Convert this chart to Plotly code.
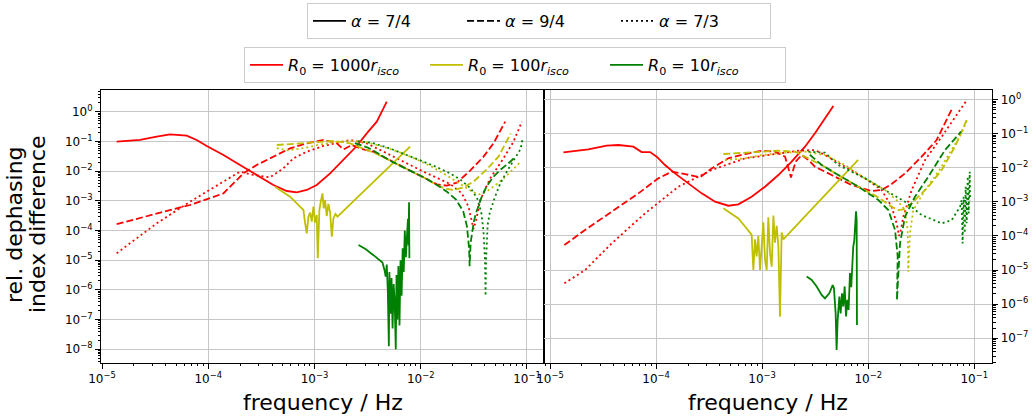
import plotly.graph_objects as go

# ---------------- data (log10 frequency / Hz, log10 rel. dephasing index difference) -------------
# LEFT PANEL
L_red_solid_f = [-4.862, -4.642, -4.485, -4.360, -4.203, -4.109, -4.014, -3.857, -3.701, -3.544, -3.387,
                 -3.261, -3.167, -3.073, -2.979, -2.853, -2.728, -2.602, -2.508, -2.414, -2.351, -2.320]
L_red_solid_v = [-1.004, -0.947, -0.834, -0.756, -0.801, -0.947, -1.149, -1.453, -1.790, -2.127, -2.464,
                 -2.667, -2.712, -2.633, -2.464, -2.071, -1.622, -1.150, -0.723, -0.329, 0.120, 0.345]

L_red_dash_f = [-4.862, -4.485, -4.171, -3.857, -3.763, -3.669, -3.544, -3.387, -3.230, -3.073, -2.916,
                -2.790, -2.728, -2.649, -2.539, -2.445, -2.288, -2.131, -1.974, -1.849, -1.755, -1.660,
                -1.535, -1.409, -1.315, -1.205]
L_red_dash_v = [-3.780, -3.443, -3.139, -2.746, -2.409, -2.071, -1.790, -1.509, -1.230, -1.060, -0.947,
                -1.060, -1.264, -1.116, -1.264, -1.341, -1.644, -1.925, -2.206, -2.442, -2.487, -2.386,
                -1.981, -1.509, -1.060, -0.329]

L_red_dot_f = [-4.862, -4.485, -4.171, -3.857, -3.701, -3.575, -3.418, -3.293, -3.198, -3.073, -2.916,
               -2.665, -2.508, -2.288, -1.974, -1.723, -1.613, -1.551, -1.519, -1.503, -1.478, -1.440,
               -1.346, -1.221, -1.127, -1.048]
L_red_dot_v = [-4.768, -3.757, -3.026, -2.352, -2.015, -2.127, -2.206, -1.903, -1.566, -1.341, -1.149,
               -0.947, -1.060, -1.453, -2.015, -2.431, -2.746, -3.195, -3.701, -3.950, -3.644, -2.970,
               -2.240, -1.565, -1.003, -0.329]

L_yel_solid_f = [-3.371, -3.230, -3.136, -3.104, -3.089, -3.073, -3.057, -3.041, -3.026, -3.010, -2.994,
                 -2.979, -2.969, -2.954, -2.941, -2.925, -2.913, -2.900, -2.885, -2.869, -2.853, -2.837,
                 -2.822, -2.803, -2.784, -2.100]
L_yel_solid_v = [-2.521, -2.858, -3.195, -3.307, -3.735, -4.094, -3.532, -3.397, -3.701, -3.195, -3.735,
                 -3.476, -4.937, -3.307, -3.026, -2.746, -3.251, -2.970, -3.510, -3.105, -3.397, -4.207,
                 -3.589, -3.442, -3.532, -1.172]

L_yel_dash_f = [-3.355, -3.167, -2.979, -2.822, -2.665, -2.539, -2.414, -2.288, -2.131, -1.974, -1.849,
                -1.770, -1.692, -1.598, -1.503, -1.378, -1.268, -1.152]
L_yel_dash_v = [-1.116, -1.060, -1.004, -0.981, -1.060, -1.228, -1.420, -1.644, -1.925, -2.206, -2.465,
                -2.589, -2.634, -2.543, -2.352, -1.936, -1.509, -0.723]

L_yel_dot_f = [-3.355, -3.25, -3.10, -2.95, -2.80, -2.65, -2.50, -2.35, -2.20, -2.05, -1.90, -1.75,
               -1.62, -1.52, -1.45, -1.38, -1.30, -1.20, -1.06]
L_yel_dot_v = [-1.22, -1.30, -1.22, -1.10, -1.02, -0.98, -1.03, -1.18, -1.36, -1.58, -1.84, -2.15,
               -2.45, -2.68, -2.78, -2.68, -2.48, -2.18, -1.68]

L_grn_solid_f = [-2.586, -2.52, -2.445, -2.40, -2.36, -2.34, -2.33, -2.32, -2.31, -2.30, -2.295, -2.285,
                 -2.275, -2.265, -2.255, -2.245, -2.235, -2.228, -2.22, -2.21, -2.20, -2.19, -2.18,
                 -2.17, -2.16, -2.15, -2.14, -2.13, -2.12, -2.115, -2.11, -2.107]
L_grn_solid_v = [-4.49, -4.62, -4.83, -4.95, -5.08, -5.35, -5.55, -5.15, -6.0, -7.9, -5.4, -6.8,
                 -5.6, -7.3, -5.8, -6.4, -8.0, -5.5, -7.0, -5.2, -7.2, -5.0, -6.2,
                 -4.6, -5.4, -4.0, -4.9, -4.2, -3.6, -4.5, -3.05, -4.93]

L_grn_dash_f = [-2.62, -2.50, -2.40, -2.29, -2.13, -1.97, -1.85, -1.75, -1.67, -1.60, -1.565, -1.545,
                -1.54, -1.53, -1.50, -1.48, -1.43, -1.38, -1.32, -1.25, -1.18, -1.11]
L_grn_dash_v = [-1.05, -1.20, -1.40, -1.64, -1.93, -2.21, -2.46, -2.70, -2.95, -3.35, -3.86, -4.6,
                -5.2, -4.4, -3.70, -3.41, -2.90, -2.51, -2.20, -1.95, -1.75, -1.52]

L_grn_dot_f = [-2.59, -2.45, -2.30, -2.15, -2.00, -1.85, -1.72, -1.62, -1.53, -1.47, -1.43, -1.41,
               -1.395, -1.39, -1.385, -1.37, -1.35, -1.30, -1.25, -1.18, -1.12, -1.06, -1.04]
L_grn_dot_v = [-0.99, -1.05, -1.22, -1.42, -1.64, -1.86, -2.08, -2.30, -2.58, -2.90, -3.40, -4.0,
               -5.0, -6.2, -5.0, -3.80, -3.40, -2.85, -2.40, -1.95, -1.62, -1.25, -0.88]

# RIGHT PANEL
R_red_solid_f = [-4.874, -4.639, -4.466, -4.356, -4.214, -4.136, -4.057, -3.994, -3.916, -3.822, -3.696,
                 -3.570, -3.444, -3.319, -3.224, -3.099, -2.973, -2.847, -2.722, -2.596, -2.502, -2.407,
                 -2.329]
R_red_solid_v = [-1.549, -1.461, -1.354, -1.334, -1.383, -1.540, -1.540, -1.676, -1.921, -2.165, -2.458,
                 -2.752, -2.996, -3.114, -3.075, -2.849, -2.556, -2.214, -1.823, -1.383, -0.992, -0.552,
                 -0.191]

R_red_dash_f = [-4.865, -4.670, -4.419, -4.167, -3.979, -3.853, -3.727, -3.586, -3.476, -3.319, -3.162,
                -3.004, -2.879, -2.784, -2.728, -2.684, -2.627, -2.564, -2.502, -2.344, -2.156, -1.967,
                -1.873, -1.779, -1.653, -1.496, -1.355, -1.213]
R_red_dash_v = [-4.267, -3.827, -3.289, -2.752, -2.312, -2.116, -2.185, -2.283, -2.019, -1.725, -1.598,
                -1.501, -1.530, -1.676, -2.283, -1.823, -1.628, -1.774, -1.970, -2.214, -2.507, -2.683,
                -2.654, -2.478, -2.165, -1.676, -1.188, -0.288]

R_red_dot_f = [-4.865, -4.670, -4.419, -4.104, -3.790, -3.476, -3.162, -2.847, -2.659, -2.502, -2.407,
               -2.219, -2.030, -1.873, -1.779, -1.732, -1.710, -1.690, -1.669, -1.590, -1.464, -1.307,
               -1.182, -1.081]
R_red_dot_v = [-5.39, -5.00, -4.218, -3.338, -2.556, -2.067, -1.725, -1.579, -1.501, -1.481, -1.628,
               -1.970, -2.312, -2.654, -3.143, -3.632, -4.00, -3.80, -3.436, -2.654, -1.774, -1.090,
               -0.503, -0.064]

R_yel_solid_f = [-3.366, -3.224, -3.146, -3.099, -3.083, -3.067, -3.052, -3.036, -3.020, -3.004, -2.989,
                 -2.973, -2.957, -2.942, -2.926, -2.910, -2.894, -2.879, -2.863, -2.847, -2.832, -2.816,
                 -2.800, -2.095]
R_yel_solid_v = [-3.19, -3.485, -3.78, -3.97, -5.0, -4.1, -4.6, -4.0, -5.0, -4.1, -3.6,
                 -4.7, -5.0, -3.45, -4.5, -4.9, -3.4, -4.2, -3.7, -4.3, -6.37, -3.9,
                 -4.1, -1.77]

R_yel_dash_f = [-3.366, -3.162, -3.004, -2.847, -2.690, -2.564, -2.439, -2.282, -2.093, -1.904, -1.779,
                -1.716, -1.653, -1.559, -1.433, -1.307, -1.182, -1.072]
R_yel_dash_v = [-1.598, -1.559, -1.510, -1.501, -1.530, -1.725, -1.921, -2.214, -2.556, -2.869, -3.143,
                -3.241, -3.211, -2.947, -2.556, -2.067, -1.383, -0.601]

R_yel_dot_f = [-3.350, -3.162, -3.004, -2.784, -2.596, -2.407, -2.219, -2.030, -1.842, -1.716, -1.653,
               -1.628, -1.622, -1.606, -1.575, -1.464, -1.339, -1.213, -1.119, -1.062]
R_yel_dot_v = [-1.774, -1.725, -1.628, -1.559, -1.530, -1.628, -1.921, -2.312, -2.654, -2.996, -3.241,
               -3.827, -5.05, -3.925, -3.241, -2.654, -2.116, -1.481, -0.992, -0.553]

R_grn_solid_f = [-2.580, -2.533, -2.486, -2.439, -2.408, -2.367, -2.335, -2.323, -2.307, -2.298, -2.288,
                 -2.272, -2.260, -2.247, -2.235, -2.222, -2.209, -2.197, -2.185, -2.172, -2.160, -2.150,
                 -2.141, -2.131, -2.122, -2.115, -2.109, -2.106]
R_grn_solid_v = [-5.19, -5.29, -5.48, -5.73, -5.83, -5.68, -5.44, -5.53, -6.27, -7.34, -6.46,
                 -5.78, -6.27, -5.68, -6.07, -5.48, -6.36, -5.87, -6.17, -5.09, -5.50, -4.70,
                 -4.31, -4.12, -3.63, -3.28, -3.53, -6.61]

R_grn_dash_f = [-2.55, -2.439, -2.282, -2.093, -1.904, -1.810, -1.747, -1.722, -1.729, -1.700, -1.653,
                -1.559, -1.433, -1.276, -1.125]
R_grn_dash_v = [-1.62, -1.921, -2.214, -2.556, -2.947, -3.241, -3.827, -4.6, -5.88, -4.218, -3.436,
                -2.849, -2.263, -1.481, -0.943]

R_grn_dot_f = [-2.564, -2.407, -2.282, -2.030, -1.842, -1.653, -1.496, -1.307, -1.213, -1.134, -1.119,
               -1.110, -1.100, -1.090, -1.081, -1.072, -1.062, -1.053, -1.043, -1.040]
R_grn_dot_v = [-1.530, -1.559, -1.921, -2.312, -2.654, -2.996, -3.387, -3.632, -3.534, -3.143, -2.95,
               -4.22, -2.85, -3.92, -2.56, -3.63, -2.26, -3.34, -2.12, -2.95]

# tick labels
x_tick_exp = [-5, -4, -3, -2, -1]
yL_tick_exp = [0, -1, -2, -3, -4, -5, -6, -7, -8]
yR_tick_exp = [0, -1, -2, -3, -4, -5, -6, -7]

alpha_labels = ["<i>α</i> = 7/4", "<i>α</i> = 9/4", "<i>α</i> = 7/3"]
r0_labels = ["<i>R</i><sub>0</sub> = 1000<i>r</i><sub><i>isco</i></sub>",
             "<i>R</i><sub>0</sub> = 100<i>r</i><sub><i>isco</i></sub>",
             "<i>R</i><sub>0</sub> = 10<i>r</i><sub><i>isco</i></sub>"]

# ---------------- styles ----------------
RED, YEL, GRN = "#ff0000", "#bfbf00", "#008000"
DASHES = {"solid": "solid", "dash": "7px,3px", "dot": "2px,3px"}
LW = 1.8
FONT = "DejaVu Sans"

left_curves = [
    (L_red_solid_f, L_red_solid_v, RED, "solid"), (L_red_dash_f, L_red_dash_v, RED, "dash"),
    (L_red_dot_f, L_red_dot_v, RED, "dot"),
    (L_yel_solid_f, L_yel_solid_v, YEL, "solid"), (L_yel_dash_f, L_yel_dash_v, YEL, "dash"),
    (L_yel_dot_f, L_yel_dot_v, YEL, "dot"),
    (L_grn_solid_f, L_grn_solid_v, GRN, "solid"), (L_grn_dash_f, L_grn_dash_v, GRN, "dash"),
    (L_grn_dot_f, L_grn_dot_v, GRN, "dot"),
]
right_curves = [
    (R_red_solid_f, R_red_solid_v, RED, "solid"), (R_red_dash_f, R_red_dash_v, RED, "dash"),
    (R_red_dot_f, R_red_dot_v, RED, "dot"),
    (R_yel_solid_f, R_yel_solid_v, YEL, "solid"), (R_yel_dash_f, R_yel_dash_v, YEL, "dash"),
    (R_yel_dot_f, R_yel_dot_v, YEL, "dot"),
    (R_grn_solid_f, R_grn_solid_v, GRN, "solid"), (R_grn_dash_f, R_grn_dash_v, GRN, "dash"),
    (R_grn_dot_f, R_grn_dot_v, GRN, "dot"),
]

fig = go.Figure()
for curves, xa, ya in [(left_curves, "x", "y"), (right_curves, "x2", "y2")]:
    for lf, lv, col, ds in curves:
        fig.add_trace(go.Scatter(
            x=[10 ** a for a in lf], y=[10 ** b for b in lv], mode="lines",
            line=dict(color=col, width=LW, dash=DASHES[ds]),
            xaxis=xa, yaxis=ya, showlegend=False, hoverinfo="skip"))

# legend entries
for lab, ds in zip(alpha_labels, ["solid", "dash", "dot"]):
    fig.add_trace(go.Scatter(x=[None], y=[None], mode="lines", name=lab,
                             line=dict(color="black", width=LW, dash=DASHES[ds]),
                             legend="legend", showlegend=True))
for lab, col in zip(r0_labels, [RED, YEL, GRN]):
    fig.add_trace(go.Scatter(x=[None], y=[None], mode="lines", name=lab,
                             line=dict(color=col, width=LW),
                             legend="legend2", showlegend=True))

W, H = 1033, 418
def px_x(p): return p / W
def px_y(p): return 1 - p / H

def sup(e):
    return "10<sup>" + ("−" + str(-e) if e < 0 else str(e)) + "</sup>"

def minors(lo, hi):
    return [k * 10.0 ** e for e in range(lo, hi) for k in range(2, 10)]

common = dict(type="log", showline=True, linecolor="black", linewidth=1, mirror=True,
              ticks="outside", ticklen=5, tickwidth=1, tickcolor="black",
              showgrid=True, gridcolor="#c6c6c6", gridwidth=1, zeroline=False,
              tickfont=dict(family=FONT, size=12, color="black"))

ydom = [px_y(362.7), px_y(90)]
fig.update_layout(
    width=W, height=H, template="none",
    margin=dict(l=0, r=0, t=0, b=0),
    paper_bgcolor="white", plot_bgcolor="white",
    font=dict(family=FONT, color="black"),
    xaxis=dict(common, domain=[px_x(101), px_x(544.3)], range=[-5.0094, -0.837], anchor="y",
               tickvals=[10.0 ** e for e in x_tick_exp], ticktext=[sup(e) for e in x_tick_exp],
               minor=dict(tickvals=minors(-6, 0), ticks="outside", ticklen=2.5, tickcolor="black",
                          showgrid=False)),
    yaxis=dict(common, domain=ydom, range=[-8.455, 0.738], anchor="x",
               tickvals=[10.0 ** e for e in yL_tick_exp], ticktext=[sup(e) for e in yL_tick_exp],
               minor=dict(tickvals=minors(-9, 1), ticks="outside", ticklen=2.5, tickcolor="black",
                          showgrid=False)),
    xaxis2=dict(common, domain=[px_x(544.3), px_x(992.3)], range=[-5.054, -0.830], anchor="y2",
                tickvals=[10.0 ** e for e in x_tick_exp], ticktext=[sup(e) for e in x_tick_exp],
                minor=dict(tickvals=minors(-6, 0), ticks="outside", ticklen=2.5, tickcolor="black",
                           showgrid=False)),
    yaxis2=dict(common, domain=ydom, range=[-7.716, 0.279], anchor="x2", side="right",
                tickvals=[10.0 ** e for e in yR_tick_exp], ticktext=[sup(e) for e in yR_tick_exp],
                minor=dict(tickvals=minors(-8, 1), ticks="outside", ticklen=2.5, tickcolor="black",
                           showgrid=False)),
    legend=dict(orientation="h", x=px_x(307), y=px_y(3), xanchor="left", yanchor="top",
                bordercolor="#cccccc", borderwidth=1, bgcolor="white",
                font=dict(family=FONT, size=16, color="black"),
                entrywidth=106, entrywidthmode="pixels", itemwidth=33),
    legend2=dict(orientation="h", x=px_x(244), y=px_y(47), xanchor="left", yanchor="top",
                 bordercolor="#cccccc", borderwidth=1, bgcolor="white",
                 font=dict(family=FONT, size=16, color="black"),
                 entrywidth=132, entrywidthmode="pixels", itemwidth=33),
)

ann_font = dict(family=FONT, size=22, color="black")
fig.add_annotation(x=px_x(322.6), y=px_y(402), xref="paper", yref="paper", text="frequency / Hz",
                   showarrow=False, font=ann_font, xanchor="center", yanchor="middle")
fig.add_annotation(x=px_x(768.3), y=px_y(402), xref="paper", yref="paper", text="frequency / Hz",
                   showarrow=False, font=ann_font, xanchor="center", yanchor="middle")
fig.add_annotation(x=px_x(14), y=px_y(225), xref="paper", yref="paper", text="rel. dephasing",
                   showarrow=False, font=ann_font, textangle=-90, xanchor="center", yanchor="middle")
fig.add_annotation(x=px_x(37), y=px_y(224), xref="paper", yref="paper", text="index difference",
                   showarrow=False, font=ann_font, textangle=-90, xanchor="center", yanchor="middle")

fig.write_html("out.html", config={"displayModeBar": False},
               post_script="document.body.style.margin='0';")
